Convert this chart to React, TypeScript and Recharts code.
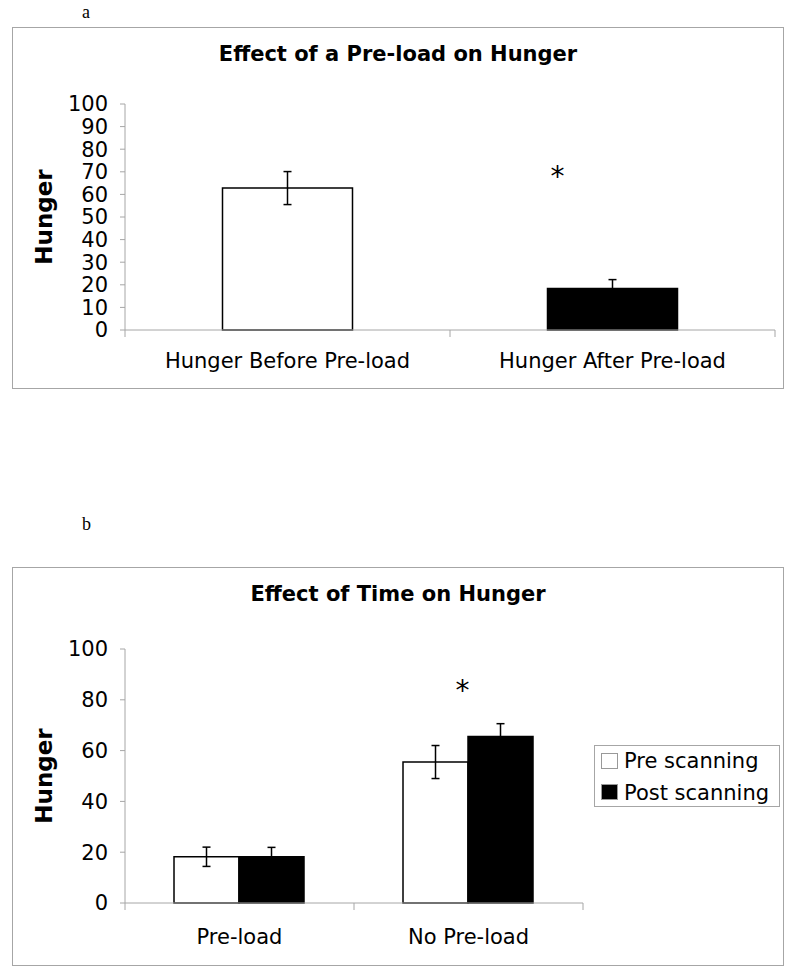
import { BarChart, Bar, Cell, XAxis, YAxis, ErrorBar, ReferenceDot } from 'recharts'

// panel a
const catsA = ['Hunger Before Pre-load', 'Hunger After Pre-load']
const meanA = [62.8, 18.4]
const errA = [7.3, 3.9]
const fillsA = ['#ffffff', '#000000']
const ticksA = [0, 10, 20, 30, 40, 50, 60, 70, 80, 90, 100]
const starA = 70

// panel b
const catsB = ['Pre-load', 'No Pre-load']
const seriesB = ['Pre scanning', 'Post scanning']
const preB = [18.2, 55.5]
const preErrB = [3.8, 6.5]
const postB = [18.2, 65.6]
const postErrB = [3.7, 5.0]
const fillsB = ['#ffffff', '#000000']
const ticksB = [0, 20, 40, 60, 80, 100]
const starB = 85.5

const dataA = catsA.map((c, i) => ({ name: c, v: meanA[i], e: errA[i] }))
const dataB = catsB.map((c, i) => ({ name: c, pre: preB[i], preErr: preErrB[i], post: postB[i], postErr: postErrB[i] }))

const FONT = '"DejaVu Sans", Verdana, sans-serif'
const GRAY = '#a6a6a6'

const CatTick = ({ x, y, payload, index, visibleTicksCount, labelDy }: any) => {
  const half = payload?.offset ?? 0
  return (
    <g>
      <line x1={x - half} x2={x - half} y1={y} y2={y + 7} stroke={GRAY} />
      {index === visibleTicksCount - 1 && (
        <line x1={x + half} x2={x + half} y1={y} y2={y + 7} stroke={GRAY} />
      )}
      <text x={x} y={y + labelDy} textAnchor="middle" fontSize={21} fill="#000">
        {payload.value}
      </text>
    </g>
  )
}

const Star = (dx: number) => (p: any) => (
  <text x={p.cx + dx} y={p.cy} dy="0.5em" textAnchor="middle" fontSize={28} fill="#000">
    *
  </text>
)

const frame = (left: number, top: number, w: number, h: number): React.CSSProperties => ({
  position: 'absolute',
  left,
  top,
  width: w,
  height: h,
  border: `1px solid ${GRAY}`,
  boxSizing: 'border-box',
  background: '#fff',
})

const titleStyle = (top: number): React.CSSProperties => ({
  position: 'absolute',
  left: 0,
  top,
  width: 796,
  textAlign: 'center',
  fontWeight: 'bold',
  fontSize: 21,
  lineHeight: '21px',
})

const panelLabel = (top: number): React.CSSProperties => ({
  position: 'absolute',
  left: 82,
  top,
  fontFamily: '"Liberation Serif", "Times New Roman", serif',
  fontSize: 18,
  lineHeight: '18px',
})

export default function App() {
  return (
    <div style={{ position: 'absolute', left: 0, top: 0, width: 800, height: 974, fontFamily: FONT, background: '#fff' }}>
      <div style={panelLabel(3)}>a</div>

      {/* panel a */}
      <div style={frame(12, 27, 772, 362)}>
        <BarChart width={770} height={360} data={dataA} margin={{ top: 76, right: 8, bottom: 8, left: 10 }} barCategoryGap="30%">
          <XAxis
            dataKey="name"
            height={50}
            interval={0}
            axisLine={{ stroke: GRAY }}
            tickLine={false}
            tickSize={0}
            tickMargin={0}
            tick={<CatTick labelDy={38} />}
          />
          <YAxis
            width={102}
            domain={[0, 100]}
            ticks={ticksA}
            interval={0}
            axisLine={{ stroke: GRAY }}
            tickLine={{ stroke: GRAY }}
            tickSize={5}
            tickMargin={12}
            tick={{ fill: '#000', fontSize: 21 }}
            label={{ value: 'Hunger', angle: -90, position: 'insideLeft', offset: 21, style: { textAnchor: 'middle', fontWeight: 'bold', fontSize: 23, fill: '#000' } }}
          />
          <Bar dataKey="v" stroke="#000" strokeWidth={1.5} isAnimationActive={false}>
            {dataA.map((d, i) => (
              <Cell key={d.name} fill={fillsA[i]} />
            ))}
            <ErrorBar dataKey="e" width={4} stroke="#000" strokeWidth={1.5} direction="y" />
          </Bar>
          <ReferenceDot x={catsA[1]} y={starA} r={0} shape={Star(-55)} />
        </BarChart>
      </div>
      <div style={titleStyle(44)}>Effect of a Pre-load on Hunger</div>

      <div style={panelLabel(515)}>b</div>

      {/* panel b */}
      <div style={frame(12, 567, 772, 399)}>
        <BarChart width={770} height={397} data={dataB} margin={{ top: 81, right: 200, bottom: 8, left: 10 }} barCategoryGap="21.4%" barGap={0}>
          <XAxis
            dataKey="name"
            height={54}
            interval={0}
            axisLine={{ stroke: GRAY }}
            tickLine={false}
            tickSize={0}
            tickMargin={0}
            tick={<CatTick labelDy={41} />}
          />
          <YAxis
            width={102}
            domain={[0, 100]}
            ticks={ticksB}
            interval={0}
            axisLine={{ stroke: GRAY }}
            tickLine={{ stroke: GRAY }}
            tickSize={5}
            tickMargin={12}
            tick={{ fill: '#000', fontSize: 21 }}
            label={{ value: 'Hunger', angle: -90, position: 'insideLeft', offset: 21, style: { textAnchor: 'middle', fontWeight: 'bold', fontSize: 23, fill: '#000' } }}
          />
          <Bar dataKey="pre" name={seriesB[0]} fill={fillsB[0]} stroke="#000" strokeWidth={1.5} isAnimationActive={false}>
            <ErrorBar dataKey="preErr" width={4} stroke="#000" strokeWidth={1.5} direction="y" />
          </Bar>
          <Bar dataKey="post" name={seriesB[1]} fill={fillsB[1]} stroke="#000" strokeWidth={1.5} isAnimationActive={false}>
            <ErrorBar dataKey="postErr" width={4} stroke="#000" strokeWidth={1.5} direction="y" />
          </Bar>
          <ReferenceDot x={catsB[1]} y={starB} r={0} shape={Star(-6)} />
        </BarChart>

        {/* legend */}
        <div style={{ position: 'absolute', left: 581, top: 177, width: 186, height: 62, border: `1px solid ${GRAY}`, boxSizing: 'border-box', background: '#fff' }}>
          {seriesB.map((s, i) => (
            <div key={s}>
              <div style={{ position: 'absolute', left: 6, top: 7 + i * 31, width: 17, height: 16, background: fillsB[i], border: '1px solid #999', boxSizing: 'border-box' }} />
              <div style={{ position: 'absolute', left: 29, top: 5 + i * 32, fontSize: 21, lineHeight: '21px', whiteSpace: 'nowrap' }}>{s}</div>
            </div>
          ))}
        </div>
      </div>
      <div style={titleStyle(584)}>Effect of Time on Hunger</div>
    </div>
  )
}
